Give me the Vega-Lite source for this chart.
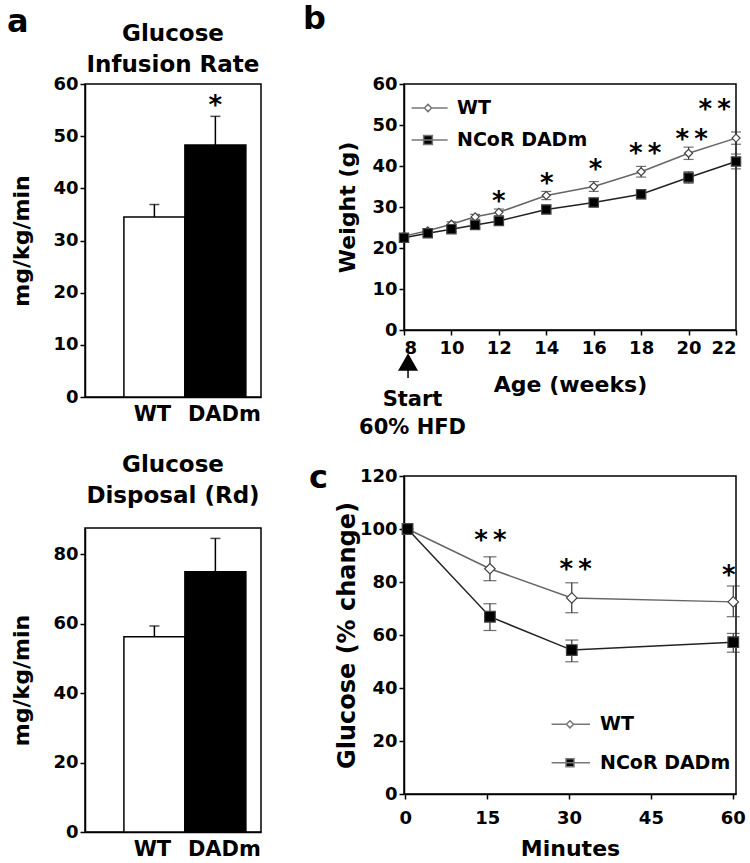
{
  "$schema": "https://vega.github.io/schema/vega-lite/v6.json",
  "padding": {"left": 7, "top": 2, "right": 0, "bottom": 0},
  "bounds": "full",
  "spacing": 40,
  "config": {
    "font": "DejaVu Sans",
    "view": {"stroke": "black", "strokeWidth": 1.5},
    "axis": {"labelFont": "DejaVu Sans", "labelFontWeight": "bold", "labelFontSize": 18, "labelColor": "black", "titleFont": "DejaVu Sans", "titleFontWeight": "bold", "titleFontSize": 22, "titleColor": "black", "domainColor": "black", "domainWidth": 1.5, "tickColor": "black", "tickWidth": 1.5, "tickSize": 5, "labelPadding": 2, "grid": false},
    "title": {"font": "DejaVu Sans", "fontWeight": "bold", "color": "black"},
    "text": {"font": "DejaVu Sans", "fontWeight": "bold", "color": "black"},
    "legend": {"labelFont": "DejaVu Sans", "labelFontWeight": "bold", "labelFontSize": 19, "labelColor": "black", "title": null, "orient": "none", "padding": 0, "symbolSize": 64, "symbolStrokeWidth": 1.5}
  },
  "datasets": {
    "weight": [
      {"week": 8, "series": "WT", "mean": 22.9, "lo": 22.3, "hi": 23.5},
      {"week": 9, "series": "WT", "mean": 24.2, "lo": 23.7, "hi": 24.7},
      {"week": 10, "series": "WT", "mean": 25.8, "lo": 25.2, "hi": 26.4},
      {"week": 11, "series": "WT", "mean": 27.6, "lo": 27.0, "hi": 28.2},
      {"week": 12, "series": "WT", "mean": 28.7, "lo": 27.9, "hi": 29.5},
      {"week": 14, "series": "WT", "mean": 32.8, "lo": 31.8, "hi": 33.8},
      {"week": 16, "series": "WT", "mean": 35.0, "lo": 33.8, "hi": 36.2},
      {"week": 18, "series": "WT", "mean": 38.6, "lo": 37.3, "hi": 39.9},
      {"week": 20, "series": "WT", "mean": 43.1, "lo": 41.6, "hi": 44.6},
      {"week": 22, "series": "WT", "mean": 46.8, "lo": 45.3, "hi": 48.3},
      {"week": 8, "series": "NCoR DADm", "mean": 22.5, "lo": 21.8, "hi": 23.2},
      {"week": 9, "series": "NCoR DADm", "mean": 23.6, "lo": 23.0, "hi": 24.2},
      {"week": 10, "series": "NCoR DADm", "mean": 24.6, "lo": 24.0, "hi": 25.2},
      {"week": 11, "series": "NCoR DADm", "mean": 25.6, "lo": 25.0, "hi": 26.2},
      {"week": 12, "series": "NCoR DADm", "mean": 26.6, "lo": 25.8, "hi": 27.4},
      {"week": 14, "series": "NCoR DADm", "mean": 29.4, "lo": 28.6, "hi": 30.2},
      {"week": 16, "series": "NCoR DADm", "mean": 31.1, "lo": 30.1, "hi": 32.1},
      {"week": 18, "series": "NCoR DADm", "mean": 33.1, "lo": 32.0, "hi": 34.2},
      {"week": 20, "series": "NCoR DADm", "mean": 37.2, "lo": 35.8, "hi": 38.6},
      {"week": 22, "series": "NCoR DADm", "mean": 41.1, "lo": 39.3, "hi": 42.9}
    ],
    "weightStars": [
      {"week": 12.0, "y": 32.9, "label": "*"},
      {"week": 14.02, "y": 37.4, "label": "*"},
      {"week": 16.08, "y": 40.8, "label": "*"},
      {"week": 18.17, "y": 44.6, "label": "*\u2009*"},
      {"week": 20.13, "y": 48.0, "label": "*\u2009*"},
      {"week": 21.1, "y": 55.3, "label": "*\u2009*"}
    ],
    "glucose": [
      {"min": 0.4, "series": "WT", "mean": 100},
      {"min": 15.5, "series": "WT", "mean": 85.0, "lo": 80.5, "hi": 89.5},
      {"min": 30.5, "series": "WT", "mean": 74.0, "lo": 68.4, "hi": 79.7},
      {"min": 60.1, "series": "WT", "mean": 72.5, "lo": 66.9, "hi": 78.5},
      {"min": 0.4, "series": "NCoR DADm", "mean": 100},
      {"min": 15.5, "series": "NCoR DADm", "mean": 66.9, "lo": 61.7, "hi": 71.8},
      {"min": 30.5, "series": "NCoR DADm", "mean": 54.3, "lo": 49.9, "hi": 58.1},
      {"min": 60.1, "series": "NCoR DADm", "mean": 57.3, "lo": 53.5, "hi": 60.6}
    ],
    "glucoseStars": [
      {"min": 15.6, "y": 98.1, "label": "*\u2009*"},
      {"min": 31.2, "y": 87.3, "label": "*\u2009*"},
      {"min": 59.3, "y": 84.8, "label": "*"}
    ]
  },
  "resolve": {"scale": {"fill": "independent", "shape": "independent", "size": "independent"}, "legend": {"shape": "independent", "fill": "independent"}},
  "hconcat": [
    {
      "title": {"text": "a", "anchor": "start", "frame": "group", "fontSize": 32, "dx": -78, "offset": -17},
      "vconcat": [
        {
          "width": 176, "height": 313,
          "title": {"text": ["Glucose", "Infusion Rate"], "fontSize": 23, "lineHeight": 31, "anchor": "middle", "frame": "group", "offset": -2},
          "data": {"values": [{"group": "WT", "mean": 34.5, "upper": 36.9}, {"group": "DADm", "mean": 48.3, "upper": 53.8}]},
          "layer": [
            {"mark": {"type": "bar", "stroke": "black", "strokeWidth": 1.5},
             "encoding": {
               "x": {"field": "group", "type": "nominal", "title": null, "scale": {"domain": ["WT", "DADm"], "paddingInner": 0, "paddingOuter": 0.443, "align": 0.72}, "axis": {"ticks": false, "labelAngle": 0, "labelFontSize": 21, "labelPadding": 6, "labelOffset": {"condition": {"test": "datum.value === 'DADm'", "value": 9}, "value": -2}}},
               "y": {"field": "mean", "type": "quantitative", "title": "mg/kg/min", "scale": {"domain": [0, 60], "nice": false}, "axis": {"values": [0, 10, 20, 30, 40, 50, 60], "titlePadding": 19}},
               "fill": {"field": "group", "type": "nominal", "scale": {"domain": ["WT", "DADm"], "range": ["white", "black"]}, "legend": null}}},
            {"mark": {"type": "rule", "color": "black", "strokeWidth": 1.5},
             "encoding": {"x": {"field": "group", "type": "nominal", "title": null}, "y": {"field": "mean", "type": "quantitative", "title": "mg/kg/min"}, "y2": {"field": "upper"}}},
            {"mark": {"type": "tick", "orient": "horizontal", "color": "black", "size": 10, "thickness": 1.5},
             "encoding": {"x": {"field": "group", "type": "nominal", "title": null}, "y": {"field": "upper", "type": "quantitative", "title": "mg/kg/min"}}},
            {"data": {"values": [{"group": "DADm", "y": 57.1, "label": "*"}]},
             "mark": {"type": "text", "fontSize": 26, "baseline": "alphabetic", "dy": 15},
             "encoding": {"x": {"field": "group", "type": "nominal", "title": null}, "y": {"field": "y", "type": "quantitative", "title": "mg/kg/min"}, "text": {"field": "label"}}}
          ]
        },
        {
          "width": 176, "height": 304,
          "title": {"text": ["Glucose", "Disposal (Rd)"], "fontSize": 23, "lineHeight": 31, "anchor": "middle", "frame": "group", "offset": 20},
          "data": {"values": [{"group": "WT", "mean": 56.2, "upper": 59.3}, {"group": "DADm", "mean": 74.9, "upper": 84.5}]},
          "layer": [
            {"mark": {"type": "bar", "stroke": "black", "strokeWidth": 1.5},
             "encoding": {
               "x": {"field": "group", "type": "nominal", "title": null, "scale": {"domain": ["WT", "DADm"], "paddingInner": 0, "paddingOuter": 0.443, "align": 0.72}, "axis": {"ticks": false, "labelAngle": 0, "labelFontSize": 21, "labelPadding": 6, "labelOffset": {"condition": {"test": "datum.value === 'DADm'", "value": 9}, "value": -2}}},
               "y": {"field": "mean", "type": "quantitative", "title": "mg/kg/min", "scale": {"domain": [0, 87.5], "nice": false}, "axis": {"values": [0, 10, 20, 30, 40, 50, 60, 70, 80], "labelExpr": "datum.value % 20 === 0 ? datum.label : ''", "titlePadding": 19}},
               "fill": {"field": "group", "type": "nominal", "scale": {"domain": ["WT", "DADm"], "range": ["white", "black"]}, "legend": null}}},
            {"mark": {"type": "rule", "color": "black", "strokeWidth": 1.5},
             "encoding": {"x": {"field": "group", "type": "nominal", "title": null}, "y": {"field": "mean", "type": "quantitative", "title": "mg/kg/min"}, "y2": {"field": "upper"}}},
            {"mark": {"type": "tick", "orient": "horizontal", "color": "black", "size": 10, "thickness": 1.5},
             "encoding": {"x": {"field": "group", "type": "nominal", "title": null}, "y": {"field": "upper", "type": "quantitative", "title": "mg/kg/min"}}}
          ]
        }
      ],
      "spacing": 131,
      "bounds": "flush",
      "resolve": {"scale": {"fill": "independent"}}
    },
    {
      "vconcat": [
        {
          "width": 332, "height": 246,
          "title": {"text": "b", "anchor": "start", "frame": "group", "fontSize": 32, "dx": -101, "offset": 39},
          "resolve": {"scale": {"shape": "independent", "fill": "independent"}, "legend": {"shape": "independent", "fill": "independent"}},
          "layer": [
            {"data": {"name": "weight"},
             "mark": {"type": "rule", "color": "#333", "strokeWidth": 1.2},
             "encoding": {"x": {"field": "week", "type": "quantitative", "title": "Age (weeks)", "scale": {"domain": [8, 22], "nice": false}, "axis": {"values": [8, 10, 12, 14, 16, 18, 20, 22], "labelPadding": 4, "titlePadding": 17}},
                          "y": {"field": "lo", "type": "quantitative", "title": "Weight (g)", "scale": {"domain": [0, 60], "nice": false}, "axis": {"values": [0, 10, 20, 30, 40, 50, 60], "titlePadding": 12}},
                          "y2": {"field": "hi"}}},
            {"data": {"name": "weight"},
             "mark": {"type": "tick", "orient": "horizontal", "color": "#333", "size": 10, "thickness": 1.2},
             "encoding": {"x": {"field": "week", "type": "quantitative", "title": "Age (weeks)"}, "y": {"field": "lo", "type": "quantitative", "title": "Weight (g)"}}},
            {"data": {"name": "weight"},
             "mark": {"type": "tick", "orient": "horizontal", "color": "#333", "size": 10, "thickness": 1.2},
             "encoding": {"x": {"field": "week", "type": "quantitative", "title": "Age (weeks)"}, "y": {"field": "hi", "type": "quantitative", "title": "Weight (g)"}}},
            {"data": {"name": "weight"},
             "transform": [{"filter": "datum.series === 'WT'"}],
             "mark": {"type": "line", "strokeWidth": 1.5, "color": "#666666"},
             "encoding": {"x": {"field": "week", "type": "quantitative", "title": "Age (weeks)"}, "y": {"field": "mean", "type": "quantitative", "title": "Weight (g)"}}},
            {"data": {"name": "weight"},
             "transform": [{"filter": "datum.series === 'NCoR DADm'"}],
             "mark": {"type": "line", "strokeWidth": 1.5, "color": "#222222"},
             "encoding": {"x": {"field": "week", "type": "quantitative", "title": "Age (weeks)"}, "y": {"field": "mean", "type": "quantitative", "title": "Weight (g)"}}},
            {"data": {"name": "weight"},
             "mark": {"type": "point", "filled": true, "stroke": "#444", "strokeWidth": 1.2, "opacity": 1},
             "encoding": {"x": {"field": "week", "type": "quantitative", "title": "Age (weeks)"}, "y": {"field": "mean", "type": "quantitative", "title": "Weight (g)"},
                          "fill": {"field": "series", "type": "nominal", "scale": {"domain": ["WT", "NCoR DADm"], "range": ["white", "black"]}, "legend": null},
                          "size": {"field": "series", "type": "nominal", "scale": {"domain": ["WT", "NCoR DADm"], "range": [64, 87]}, "legend": null},
                          "shape": {"field": "series", "type": "nominal", "scale": {"domain": ["WT", "NCoR DADm"], "range": ["diamond", "square"]}, "legend": null}}},
            {"data": {"values": []},
             "mark": {"type": "point", "filled": true, "stroke": "#777777", "strokeWidth": 1.5, "opacity": 1},
             "encoding": {"x": {"field": "week", "type": "quantitative", "title": "Age (weeks)"}, "y": {"field": "mean", "type": "quantitative", "title": "Weight (g)"},
                          "fill": {"field": "series", "type": "nominal", "scale": {"domain": ["WT"], "range": ["white"]}},
                          "shape": {"field": "series", "type": "nominal", "scale": {"domain": ["WT"], "range": ["M-4.1,0H-0.9M0.9,0H4.9M0,-0.9L0.9,0L0,0.9L-0.9,0Z"]},
                                    "legend": {"legendX": 14.5, "legendY": 14.5, "labelOffset": 19.5}}}},
            {"data": {"values": []},
             "mark": {"type": "point", "filled": true, "stroke": "#777777", "strokeWidth": 1.5, "opacity": 1},
             "encoding": {"x": {"field": "week", "type": "quantitative", "title": "Age (weeks)"}, "y": {"field": "mean", "type": "quantitative", "title": "Weight (g)"},
                          "fill": {"field": "series", "type": "nominal", "scale": {"domain": ["NCoR DADm"], "range": ["black"]}},
                          "shape": {"field": "series", "type": "nominal", "scale": {"domain": ["NCoR DADm"], "range": ["M-4.1,0H4.9M-1.1,-1.1H1.1V1.1H-1.1Z"]},
                                    "legend": {"legendX": 14.5, "legendY": 46.5, "labelOffset": 19.5}}}},
            {"data": {"name": "weightStars"},
             "mark": {"type": "text", "fontSize": 26, "baseline": "alphabetic", "dy": 15},
             "encoding": {"x": {"field": "week", "type": "quantitative", "title": "Age (weeks)"}, "y": {"field": "y", "type": "quantitative", "title": "Weight (g)"}, "text": {"field": "label"}}},
            {"data": {"values": [{"week": 8.17, "y": -7.8}]},
             "mark": {"type": "point", "shape": "triangle-up", "size": 400, "filled": true, "color": "black", "opacity": 1},
             "encoding": {"x": {"field": "week", "type": "quantitative", "title": "Age (weeks)"}, "y": {"field": "y", "type": "quantitative", "title": "Weight (g)"}}},
            {"data": {"values": [{"week": 8.17, "y": -9.7, "y2": -11.7}]},
             "mark": {"type": "rule", "color": "black", "strokeWidth": 1.5},
             "encoding": {"x": {"field": "week", "type": "quantitative", "title": "Age (weeks)"}, "y": {"field": "y", "type": "quantitative", "title": "Weight (g)"}, "y2": {"field": "y2"}}},
            {"data": {"values": [{"week": 8.36, "y": -14.4, "label": "Start\n60% HFD"}]},
             "mark": {"type": "text", "fontSize": 21, "align": "center", "baseline": "top", "lineBreak": "\n", "lineHeight": 28},
             "encoding": {"x": {"field": "week", "type": "quantitative", "title": "Age (weeks)"}, "y": {"field": "y", "type": "quantitative", "title": "Weight (g)"}, "text": {"field": "label"}}}
          ]
        },
        {
          "width": 332, "height": 318,
          "title": {"text": "c", "anchor": "start", "frame": "group", "fontSize": 32, "dx": -95, "offset": -28},
          "resolve": {"scale": {"shape": "independent", "fill": "independent"}, "legend": {"shape": "independent", "fill": "independent"}},
          "layer": [
            {"data": {"name": "glucose"},
             "mark": {"type": "rule", "color": "#333", "strokeWidth": 1.2},
             "encoding": {"x": {"field": "min", "type": "quantitative", "title": "Minutes", "scale": {"domain": [-0.25, 60.6], "nice": false, "zero": false}, "axis": {"values": [0, 15, 30, 45, 60], "labelPadding": 10, "titlePadding": 11}},
                          "y": {"field": "lo", "type": "quantitative", "title": "Glucose (% change)", "scale": {"domain": [0, 120], "nice": false}, "axis": {"values": [0, 20, 40, 60, 80, 100, 120], "titlePadding": 0, "titleFontSize": 24}},
                          "y2": {"field": "hi"}}},
            {"data": {"name": "glucose"},
             "mark": {"type": "tick", "orient": "horizontal", "color": "#333", "size": 13, "thickness": 1.2},
             "encoding": {"x": {"field": "min", "type": "quantitative", "title": "Minutes"}, "y": {"field": "lo", "type": "quantitative", "title": "Glucose (% change)"}}},
            {"data": {"name": "glucose"},
             "mark": {"type": "tick", "orient": "horizontal", "color": "#333", "size": 13, "thickness": 1.2},
             "encoding": {"x": {"field": "min", "type": "quantitative", "title": "Minutes"}, "y": {"field": "hi", "type": "quantitative", "title": "Glucose (% change)"}}},
            {"data": {"name": "glucose"},
             "transform": [{"filter": "datum.series === 'WT'"}],
             "mark": {"type": "line", "strokeWidth": 1.5, "color": "#666666"},
             "encoding": {"x": {"field": "min", "type": "quantitative", "title": "Minutes"}, "y": {"field": "mean", "type": "quantitative", "title": "Glucose (% change)"}}},
            {"data": {"name": "glucose"},
             "transform": [{"filter": "datum.series === 'NCoR DADm'"}],
             "mark": {"type": "line", "strokeWidth": 1.5, "color": "#222222"},
             "encoding": {"x": {"field": "min", "type": "quantitative", "title": "Minutes"}, "y": {"field": "mean", "type": "quantitative", "title": "Glucose (% change)"}}},
            {"data": {"name": "glucose"},
             "mark": {"type": "point", "filled": true, "stroke": "#444", "strokeWidth": 1.2, "opacity": 1},
             "encoding": {"x": {"field": "min", "type": "quantitative", "title": "Minutes"}, "y": {"field": "mean", "type": "quantitative", "title": "Glucose (% change)"},
                          "fill": {"field": "series", "type": "nominal", "scale": {"domain": ["WT", "NCoR DADm"], "range": ["white", "black"]}, "legend": null},
                          "size": {"field": "series", "type": "nominal", "scale": {"domain": ["WT", "NCoR DADm"], "range": [110, 114]}, "legend": null},
                          "shape": {"field": "series", "type": "nominal", "scale": {"domain": ["WT", "NCoR DADm"], "range": ["diamond", "square"]}, "legend": null}}},
            {"data": {"values": []},
             "mark": {"type": "point", "filled": true, "stroke": "#777777", "strokeWidth": 1.5, "opacity": 1},
             "encoding": {"x": {"field": "min", "type": "quantitative", "title": "Minutes"}, "y": {"field": "mean", "type": "quantitative", "title": "Glucose (% change)"},
                          "fill": {"field": "series", "type": "nominal", "scale": {"domain": ["WT"], "range": ["white"]}},
                          "shape": {"field": "series", "type": "nominal", "scale": {"domain": ["WT"], "range": ["M-4.6,0H-0.9M0.9,0H5M0,-0.9L0.9,0L0,0.9L-0.9,0Z"]},
                                    "legend": {"legendX": 156.5, "legendY": 238.8, "labelOffset": 20.5}}}},
            {"data": {"values": []},
             "mark": {"type": "point", "filled": true, "stroke": "#777777", "strokeWidth": 1.5, "opacity": 1},
             "encoding": {"x": {"field": "min", "type": "quantitative", "title": "Minutes"}, "y": {"field": "mean", "type": "quantitative", "title": "Glucose (% change)"},
                          "fill": {"field": "series", "type": "nominal", "scale": {"domain": ["NCoR DADm"], "range": ["black"]}},
                          "shape": {"field": "series", "type": "nominal", "scale": {"domain": ["NCoR DADm"], "range": ["M-4.6,0H5M-1,-1H1V1H-1Z"]},
                                    "legend": {"legendX": 156.5, "legendY": 277.2, "labelOffset": 20.5}}}},
            {"data": {"name": "glucoseStars"},
             "mark": {"type": "text", "fontSize": 26, "baseline": "alphabetic", "dy": 15},
             "encoding": {"x": {"field": "min", "type": "quantitative", "title": "Minutes"}, "y": {"field": "y", "type": "quantitative", "title": "Glucose (% change)"}, "text": {"field": "label"}}}
          ]
        }
      ],
      "spacing": 146,
      "bounds": "flush",
      "resolve": {"scale": {"fill": "independent", "shape": "independent", "size": "independent"}, "legend": {"shape": "independent", "fill": "independent"}}
    }
  ]
}
